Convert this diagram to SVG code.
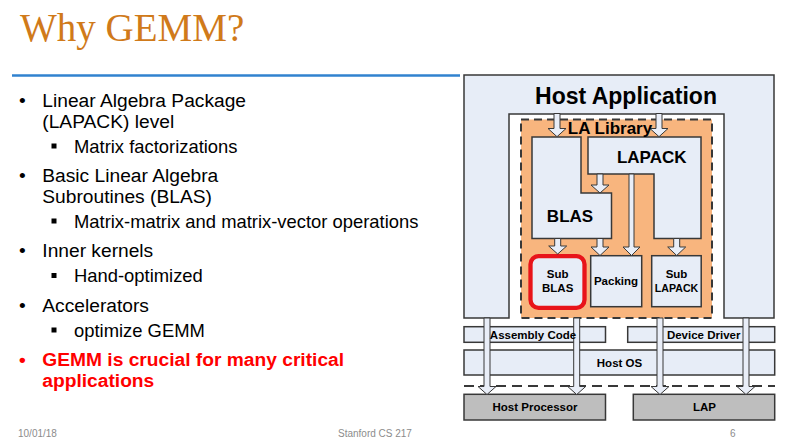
<svg xmlns="http://www.w3.org/2000/svg" width="789" height="438" viewBox="0 0 789 438">
  <style>
    .title { font-family: "Liberation Serif", "Times New Roman", serif; font-size: 39px; fill: #d07a1a; }
    .main { font-family: "Liberation Sans", Arial, sans-serif; font-size: 19.2px; fill: #000; }
    .sub { font-family: "Liberation Sans", Arial, sans-serif; font-size: 18.4px; fill: #000; }
    .hot { font-family: "Liberation Sans", Arial, sans-serif; font-size: 19.2px; fill: #ff0000; font-weight: bold; }
    .foot { font-family: "Liberation Sans", Arial, sans-serif; font-size: 10px; fill: #8c8c8c; }
    .box { fill: #e7edf7; stroke: #383838; stroke-width: 1.5; }
    .hw { fill: #bebebe; stroke: #383838; stroke-width: 1.5; }
    .arrow { fill: #e9eef8; stroke: #383838; stroke-width: 1; }
    .lbl { font-family: "Liberation Sans", Arial, sans-serif; font-weight: bold; fill: #000; text-anchor: middle; }
    .big { font-size: 23px; }
    .mid { font-size: 17px; }
    .sm { font-size: 11.5px; }
  </style>

  <!-- slide title and rule -->
  <text class="title" x="20" y="41">Why GEMM?</text>
  <line x1="12" y1="75.5" x2="460" y2="75.5" stroke="#3082cf" stroke-width="2.5"/>

  <!-- bullet list -->
  <g id="bullets">
    <text class="main" x="19" y="107.3">•</text>
    <text class="main" x="42.3" y="107.3">Linear Algebra Package</text>
    <text class="main" x="42.3" y="128.3">(LAPACK) level</text>
    <rect x="51.5" y="143.5" width="5" height="5" fill="#000"/>
    <text class="sub" x="74" y="152.7">Matrix factorizations</text>

    <text class="main" x="19" y="181.7">•</text>
    <text class="main" x="42.3" y="181.7">Basic Linear Algebra</text>
    <text class="main" x="42.3" y="203.3">Subroutines (BLAS)</text>
    <rect x="51.5" y="218.5" width="5" height="5" fill="#000"/>
    <text class="sub" x="74" y="227.7">Matrix-matrix and matrix-vector operations</text>

    <text class="main" x="19" y="257.3">•</text>
    <text class="main" x="42.3" y="257.3">Inner kernels</text>
    <rect x="51.5" y="273" width="5" height="5" fill="#000"/>
    <text class="sub" x="74" y="282.3">Hand-optimized</text>

    <text class="main" x="19" y="311.7">•</text>
    <text class="main" x="42.3" y="311.7">Accelerators</text>
    <rect x="51.5" y="327.5" width="5" height="5" fill="#000"/>
    <text class="sub" x="74" y="336.7">optimize GEMM</text>

    <text class="hot" x="19" y="366" font-weight="normal">•</text>
    <text class="hot" x="42.3" y="366">GEMM is crucial for many critical</text>
    <text class="hot" x="42.3" y="386.7">applications</text>
  </g>

  <!-- footer -->
  <text class="foot" x="18" y="437">10/01/18</text>
  <text class="foot" x="338" y="437">Stanford CS 217</text>
  <text class="foot" x="730" y="437">6</text>

  <!-- software stack -->
  <g id="host-application">
    <path class="box" d="M464,75 H774 V318 H724 V114 H509 V318 H464 Z"/>
  </g>
  <g id="la-library">
    <rect x="521" y="119.5" width="191" height="198.5" fill="#f8b57e" stroke="#383838" stroke-width="2" stroke-dasharray="8,5"/>
  </g>
  <g id="blas">
    <path class="box" d="M532,137 H581 V193 H611.5 V238.5 H532 Z"/>
  </g>
  <g id="lapack">
    <path class="box" d="M588,137 H701 V238.5 H654 V174 H588 Z"/>
  </g>
  <g id="sub-blas">
    <rect x="530.5" y="256.2" width="54" height="51.6" rx="8" fill="#e7edf7" stroke="#e8141a" stroke-width="4.3"/>
  </g>
  <g id="packing">
    <rect class="box" x="590.7" y="255.7" width="51" height="51"/>
  </g>
  <g id="sub-lapack">
    <rect class="box" x="651.7" y="255.7" width="49.5" height="51"/>
  </g>
  <g id="assembly-code">
    <rect class="box" x="464" y="326.7" width="141.5" height="15.6"/>
  </g>
  <g id="device-driver">
    <rect class="box" x="627.7" y="326.7" width="147" height="15.6"/>
  </g>
  <g id="host-os">
    <rect class="box" x="464" y="350" width="310.7" height="25"/>
  </g>
  <line x1="464" y1="386" x2="775" y2="386" stroke="#383838" stroke-width="2" stroke-dasharray="10,6"/>
  <g id="host-processor">
    <rect class="hw" x="464" y="394.3" width="141.5" height="25.7"/>
  </g>
  <g id="lap">
    <rect class="hw" x="633.3" y="394.3" width="141.4" height="25.7"/>
  </g>

  <!-- block arrows -->
  <g id="connectors">
    <polygon class="arrow" points="554,113.5 560,113.5 560,128.5 566,128.5 557,136.7 548,128.5 554,128.5"/>
    <polygon class="arrow" points="656,113.5 662,113.5 662,128.5 668,128.5 659,136.7 650,128.5 656,128.5"/>
    <polygon class="arrow" points="597,174 603,174 603,185 609,185 600,193 591,185 597,185"/>
    <polygon class="arrow" points="629,174 634,174 634,247 640,247 631.5,255.5 623,247 629,247"/>
    <polygon class="arrow" points="554.7,238.5 560.7,238.5 560.7,246 566.7,246 557.7,254 548.7,246 554.7,246"/>
    <polygon class="arrow" points="597,238.5 603,238.5 603,247 609,247 600,255.5 591,247 597,247"/>
    <polygon class="arrow" points="673.7,238.5 679.7,238.5 679.7,247 685.7,247 676.7,255.5 667.7,247 673.7,247"/>
    <polygon class="arrow" points="484,318 490,318 490,386.5 496,386.5 487,394.5 478,386.5 484,386.5"/>
    <polygon class="arrow" points="573.7,318 579.7,318 579.7,386.5 585.7,386.5 576.7,394.5 567.7,386.5 573.7,386.5"/>
    <polygon class="arrow" points="657,318 663,318 663,386.5 669,386.5 660,394.5 651,386.5 657,386.5"/>
    <polygon class="arrow" points="743,318 749,318 749,386.5 755,386.5 746,394.5 737,386.5 743,386.5"/>
  </g>

  <!-- stack labels -->
  <g id="labels">
    <text class="lbl big" x="626" y="104">Host Application</text>
    <text class="lbl mid" x="610" y="134">LA Library</text>
    <text class="lbl mid" x="651.7" y="162.5">LAPACK</text>
    <text class="lbl mid" x="570" y="221.5">BLAS</text>
    <text class="lbl sm" x="557.7" y="277.7">Sub</text>
    <text class="lbl sm" x="557.7" y="291.7">BLAS</text>
    <text class="lbl sm" x="616" y="285">Packing</text>
    <text class="lbl sm" x="676.5" y="277.7">Sub</text>
    <text class="lbl sm" x="676.5" y="291.7" textLength="43.5" lengthAdjust="spacingAndGlyphs">LAPACK</text>
    <text class="lbl sm" x="533" y="339">Assembly Code</text>
    <text class="lbl sm" x="703.7" y="339">Device Driver</text>
    <text class="lbl sm" x="619.5" y="366.5">Host OS</text>
    <text class="lbl sm" x="535" y="411">Host Processor</text>
    <text class="lbl sm" x="704.5" y="411">LAP</text>
  </g>
</svg>
